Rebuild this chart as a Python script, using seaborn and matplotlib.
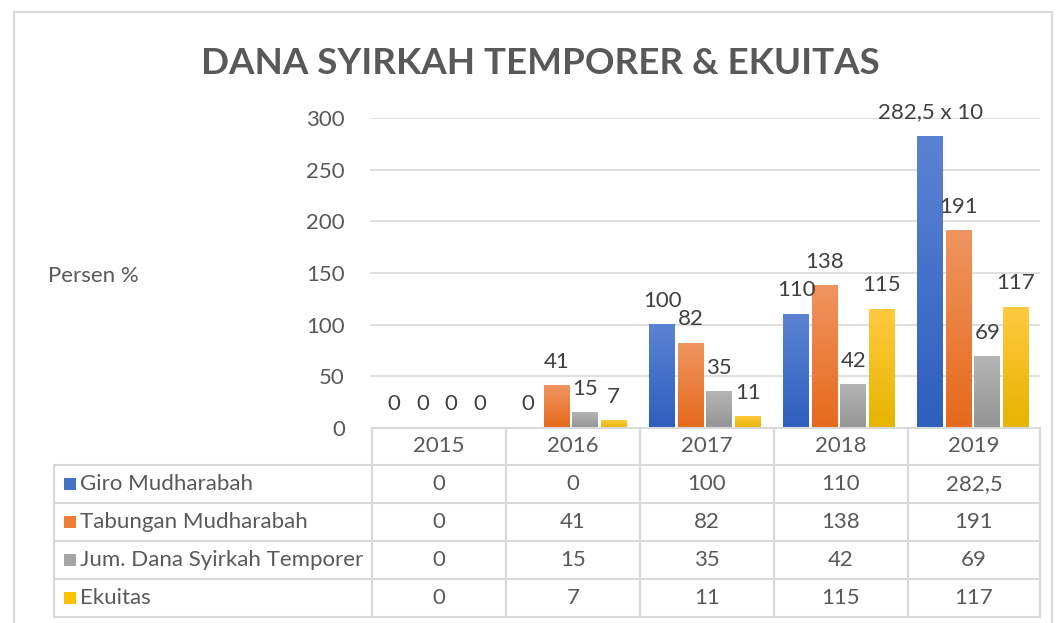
import numpy as np
import pandas as pd
import matplotlib
matplotlib.use("Agg")
import matplotlib.pyplot as plt
import seaborn as sns
from matplotlib.colors import LinearSegmentedColormap
from matplotlib.patches import Rectangle
from matplotlib.lines import Line2D

years = ["2015", "2016", "2017", "2018", "2019"]
series_names = ["Giro Mudharabah", "Tabungan Mudharabah",
                "Jum. Dana Syirkah Temporer", "Ekuitas"]
giro = [0, 0, 100, 110, 282.5]
tabungan = [0, 41, 82, 138, 191]
jum_dana = [0, 15, 35, 42, 69]
ekuitas = [0, 7, 11, 115, 117]
table_text = [
    ["0", "0", "100", "110", "282,5"],
    ["0", "41", "82", "138", "191"],
    ["0", "15", "35", "42", "69"],
    ["0", "7", "11", "115", "117"],
]
bar_labels = [
    ["0", "0", "100", "110", "282,5 x 10"],
    ["0", "41", "82", "138", "191"],
    ["0", "15", "35", "42", "69"],
    ["0", "7", "11", "115", "117"],
]
title = "DANA SYIRKAH TEMPORER & EKUITAS"
ylabel = "Persen %"
yticks = [0, 50, 100, 150, 200, 250, 300]

colors_top = ["#5b83d3", "#f09560", "#b5b5b5", "#ffca3f"]
colors_bot = ["#2d5fbd", "#e5691b", "#949494", "#e6b400"]
solid = ["#4472c4", "#ed7d31", "#a5a5a5", "#ffc000"]

sns.set_theme(style="white")
plt.rcParams["font.family"] = ["Lato", "DejaVu Sans"]

df = pd.DataFrame({
    "year": years * 4,
    "series": sum([[s] * 5 for s in series_names], []),
    "value": giro + tabungan + jum_dana + ekuitas,
})

W, H = 1056, 623
fig = plt.figure(figsize=(W / 100, H / 100), dpi=100)

def fx(px):
    return px / W

def fy(py):
    return 1 - py / H

ax_left, ax_right, ax_top, ax_bot = 370, 1040, 118, 428
ax = fig.add_axes([fx(ax_left), fy(ax_bot), fx(ax_right - ax_left), (ax_bot - ax_top) / H])

sns.barplot(data=df, x="year", y="value", hue="series", order=years,
            hue_order=series_names, palette=solid, width=0.85, gap=0.1,
            ax=ax, legend=False, zorder=3)
ax.set_xlim(-0.5, 4.5)
ax.set_ylim(0, 300)
ax.set_yticks(yticks)
ax.set_yticklabels([str(t) for t in yticks], fontsize=16, color="#595959")
ax.tick_params(axis="y", length=0, pad=18)
ax.set_xticks([])
ax.set_xlabel("")
ax.set_ylabel("")
for s in ax.spines.values():
    s.set_visible(False)
ax.yaxis.grid(True, color="#d9d9d9", linewidth=1.2, zorder=0)
ax.set_axisbelow(True)

# gradient fill for bars
grad = np.linspace(0, 1, 256).reshape(-1, 1)
for i, cont in enumerate(ax.containers):
    cmap = LinearSegmentedColormap.from_list("g%d" % i, [colors_bot[i], colors_top[i]])
    for j, bar in enumerate(cont):
        x0 = bar.get_x()
        w = bar.get_width()
        h = bar.get_height()
        if h > 0:
            bar.set_facecolor("none")
            bar.set_edgecolor("none")
            ax.imshow(grad, cmap=cmap, origin="lower", aspect="auto",
                      extent=[x0, x0 + w, 0, h], zorder=3, interpolation="bilinear")
        ax.annotate(bar_labels[i][j], (x0 + w / 2, h), xytext=(0, 10),
                    textcoords="offset points", ha="center", va="bottom",
                    fontsize=16, color="#404040", annotation_clip=False, zorder=5)
ax.set_xlim(-0.5, 4.5)
ax.set_ylim(0, 300)

# title & y label
fig.text(fx(540), fy(63), title, ha="center", va="center", fontsize=26.5,
         fontweight="bold", color="#595959")
fig.text(fx(48), fy(276), ylabel, ha="left", va="center", fontsize=16, color="#595959")

# chart frame
fig.add_artist(Rectangle((fx(14), fy(640)), fx(1052 - 14), (640 - 12) / H,
                         transform=fig.transFigure, fill=False,
                         edgecolor="#d9d9d9", linewidth=1.5))

# data table
line_c = "#d9d9d9"
col_edges = [372, 506, 640, 774, 908, 1040]
row_edges = [428, 465, 503, 541, 579, 617]
tbl_left = 54

def hline(x0, x1, y):
    fig.add_artist(Line2D([fx(x0), fx(x1)], [fy(y), fy(y)], transform=fig.transFigure,
                          color=line_c, linewidth=1.5))

def vline(x, y0, y1):
    fig.add_artist(Line2D([fx(x), fx(x)], [fy(y0), fy(y1)], transform=fig.transFigure,
                          color=line_c, linewidth=1.5))

hline(col_edges[0], col_edges[-1], row_edges[0])
for y in row_edges[1:]:
    hline(tbl_left, col_edges[-1], y)
for x in col_edges:
    vline(x, row_edges[0], row_edges[-1])
vline(tbl_left, row_edges[1], row_edges[-1])

for k, yr in enumerate(years):
    cx = (col_edges[k] + col_edges[k + 1]) / 2
    cy = (row_edges[0] + row_edges[1]) / 2
    fig.text(fx(cx), fy(cy), yr, ha="center", va="center", fontsize=16, color="#595959")

for r, name in enumerate(series_names):
    cy = (row_edges[r + 1] + row_edges[r + 2]) / 2
    fig.add_artist(Rectangle((fx(64), fy(cy + 6)), fx(12), 12 / H,
                             transform=fig.transFigure, facecolor=solid[r],
                             edgecolor="none"))
    fig.text(fx(80), fy(cy), name, ha="left", va="center", fontsize=16, color="#595959")
    for k in range(5):
        cx = (col_edges[k] + col_edges[k + 1]) / 2
        fig.text(fx(cx), fy(cy), table_text[r][k], ha="center", va="center",
                 fontsize=16, color="#595959")

fig.savefig("out.png", dpi=100)
